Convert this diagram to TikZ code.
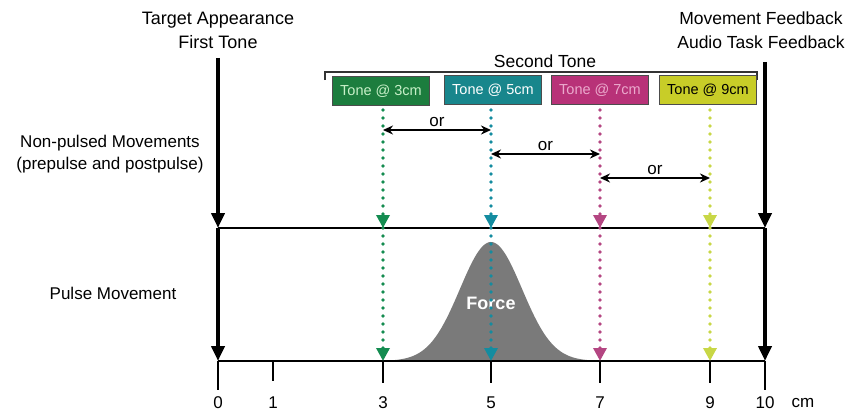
\documentclass[tikz,border=0pt]{standalone}
\usepackage{fontspec}
\setmainfont{Liberation Sans}
\usetikzlibrary{arrows.meta}
\definecolor{cgreen}{RGB}{28,125,62}
\definecolor{cteal}{RGB}{24,134,140}
\definecolor{cmag}{RGB}{184,50,120}
\definecolor{cyel}{RGB}{200,205,40}
\definecolor{dgreen}{RGB}{20,140,80}
\definecolor{dteal}{RGB}{20,140,160}
\definecolor{dmag}{RGB}{180,70,130}
\definecolor{dyel}{RGB}{200,215,70}
\definecolor{tgreen}{RGB}{200,240,200}
\definecolor{tmag}{RGB}{235,170,205}
\definecolor{forcegray}{RGB}{122,122,122}
\begin{document}
\begin{tikzpicture}[x=1pt,y=-1pt,
  big/.style={font=\fontsize{17}{22}\selectfont, inner sep=0pt},
  hline/.style={line width=2.6pt, black},
  vline/.style={line width=4pt, black, -{Triangle[width=13pt,length=15pt]}},
  tickline/.style={line width=2.6pt, black},
  tonebox/.style={draw=black!70, line width=1pt, minimum width=97pt, minimum height=29pt, inner sep=0pt, font=\fontsize{14.5}{16}\selectfont},
  dots/.style={draw=#1, line width=3.8pt, line cap=round, dash pattern=on 0pt off 8pt, -{Triangle[width=13pt,length=13pt,fill=#1,color=#1]}},
  orarrow/.style={line width=1.8pt, black, {Stealth[length=10pt,width=9pt]}-{Stealth[length=10pt,width=9pt]}}
]
\useasboundingbox (0,0) rectangle (848,412);

% coordinates on lines
\foreach \n/\xx in {0/218,1/273,3/383,5/491,7/600,9/710,10/765}{
  \coordinate (t\n) at (\xx,228);
  \coordinate (b\n) at (\xx,361);
}
\coordinate (e0) at (218,390);
\coordinate (e1) at (273,381);
\coordinate (e3) at (383,383);
\coordinate (e5) at (491,383);
\coordinate (e7) at (600,383);
\coordinate (e9) at (710,383);
\coordinate (e10) at (765,390);

% gaussian force
\fill[forcegray] plot[domain=383:600, samples=120] (\x, {361-119*exp(-((\x-491)/31)^2/2)}) -- cycle;
\node[font=\bfseries\fontsize{18}{20}\selectfont, text=white] (force) at (491,303) {Force};

% horizontal lines and ticks
\draw[hline] (t0) -- (t10);
\draw[hline] (b0) -- (b10);
\foreach \n in {0,1,3,5,7,9,10}{ \draw[tickline] (b\n) -- (e\n); }
\foreach \n/\xx in {0/218,1/273,3/383,5/491,7/600,9/710,10/765}{
  \node[big] (l\n) at (\xx,403) {\n};
}
\node[big] (cm) at (803,403) {cm};

% top labels
\node[big, align=center, font=\fontsize{18}{24}\selectfont] (target) at (218,30) {Target Appearance\\First Tone};
\node[big, align=center, font=\fontsize{17.5}{24}\selectfont] (feedback) at (761,30) {Movement Feedback\\Audio Task Feedback};
\coordinate (ls) at (218,58);
\coordinate (rs) at (765,62);
\draw[vline] (ls) -- (t0);
\draw[vline] (t0) -- (b0);
\draw[vline] (rs) -- (t10);
\draw[vline] (t10) -- (b10);

% left labels
\node[big, align=center] (nonpulsed) at (110,154) {Non-pulsed Movements\\(prepulse and postpulse)};
\node[big] (pulse) at (113,293) {Pulse Movement};

% second tone bracket
\node[big, font=\fontsize{17.5}{22}\selectfont] (second) at (545,61) {Second Tone};
\coordinate (brl) at (325,80);
\coordinate (brr) at (757,80);
\draw[line width=1.4pt, black!80] (brl) -- (325,72) -- (757,72) -- (brr);

% tone boxes
\node[tonebox, fill=cgreen, text=tgreen] (tone3) at (381,91) {Tone @ 3cm};
\node[tonebox, fill=cteal, text=white] (tone5) at (493,90) {Tone @ 5cm};
\node[tonebox, fill=cmag, text=tmag] (tone7) at (600,90) {Tone @ 7cm};
\node[tonebox, fill=cyel, text=black] (tone9) at (708,90) {Tone @ 9cm};

% dotted lines
\coordinate (s3) at (383,110);
\coordinate (s5) at (491,110);
\coordinate (s7) at (600,110);
\coordinate (s9) at (710,110);
\draw[dots=dgreen] (s3) -- (t3);
\draw[dots=dgreen] (t3) -- (b3);
\draw[dots=dteal] (s5) -- (t5);
\draw[dots=dteal] (t5) -- (b5);
\draw[dots=dmag] (s7) -- (t7);
\draw[dots=dmag] (t7) -- (b7);
\draw[dots=dyel] (s9) -- (t9);
\draw[dots=dyel] (t9) -- (b9);

% or arrows
\coordinate (o1a) at (383,130); \coordinate (o1b) at (491,130);
\coordinate (o2a) at (491,154); \coordinate (o2b) at (600,154);
\coordinate (o3a) at (600,178); \coordinate (o3b) at (710,178);
\draw[orarrow] (o1a) -- (o1b) node[midway, above=2pt, big] (or1) {or};
\draw[orarrow] (o2a) -- (o2b) node[midway, above=2pt, big] (or2) {or};
\draw[orarrow] (o3a) -- (o3b) node[midway, above=2pt, big] (or3) {or};
\end{tikzpicture}
\end{document}
